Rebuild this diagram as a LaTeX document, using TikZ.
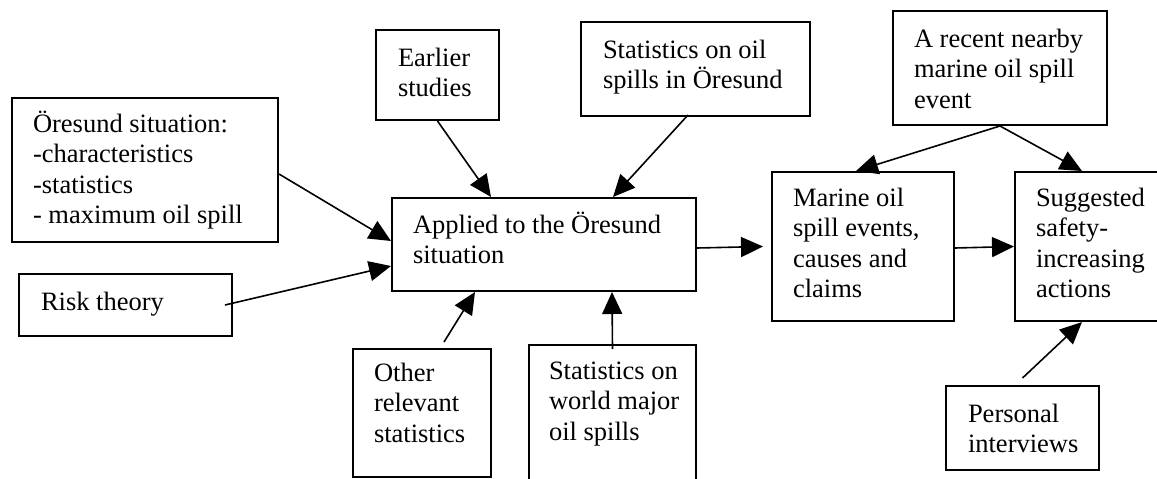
\documentclass[tikz,border=0pt]{standalone}
\usepackage{fontspec}
\setmainfont{Liberation Serif}
\usetikzlibrary{arrows.meta,calc}
\newcommand{\bxtext}[5]{\parbox[c][#2pt][t]{#1pt}{\raggedright\leftskip=#3pt\relax\rule{0pt}{#4pt}#5}}
\begin{document}
\begin{tikzpicture}[x=1pt,y=-1pt,
  box/.style={draw,line width=2pt,inner sep=0pt,anchor=north west,font=\fontsize{26.5}{30.5}\selectfont},
  arr/.style={line width=1.6pt,-{Triangle[length=22pt,width=20pt]}}]
\useasboundingbox (0,0) rectangle (1157,479);
\clip (0,0) rectangle (1157,479);
\node[box] (oresund) at (11,97) {\bxtext{266}{144}{21}{34}{Öresund situation:\\-characteristics\\-statistics\\- maximum oil spill}};
\node[box] (risk) at (18,273) {\bxtext{213}{62}{22}{36}{Risk theory}};
\node[box] (earlier) at (375,29) {\bxtext{123}{90}{22}{36}{Earlier\\studies}};
\node[box] (statsore) at (580,21) {\bxtext{229}{94}{22}{36}{Statistics on oil\\spills in Öresund}};
\node[box] (applied) at (391,197) {\bxtext{304}{93}{21}{35}{Applied to the Öresund\\situation}};
\node[box] (recent) at (892,10) {\bxtext{214}{114}{21}{36}{A recent nearby\\marine oil spill\\event}};
\node[box] (marine) at (771,171) {\bxtext{182}{149}{21}{34}{Marine oil\\spill events,\\causes and\\claims}};
\node[box] (suggested) at (1014,171) {\bxtext{150}{149}{21}{34}{Suggested\\safety-\\increasing\\actions}};
\node[box] (personal) at (945,385) {\bxtext{153}{84}{22}{36}{Personal\\interviews}};
\node[box] (other) at (352,348) {\bxtext{138}{128}{21}{32}{Other\\relevant\\statistics}};
\node[box] (world) at (528,344) {\bxtext{167}{150}{20}{34}{Statistics on\\world major\\oil spills}};
\draw[arr] ($(oresund.east)+(0,4)$) -- ($(applied.west)+(0,-3.5)$);
\draw[arr] ($(risk.east)+(-8,0)$) -- ($(applied.west)+(0,21.5)$);
\draw[arr] (earlier.south) -- ($(applied.north)+(-53,0)$);
\draw[arr] ($(statsore.south)+(-7.5,-2)$) -- ($(applied.north)+(69,0)$);
\draw[arr] ($(applied.east)+(0,3.5)$) -- ($(marine.west)+(-8,0)$);
\draw[arr] ($(marine.east)+(0,1.5)$) -- (suggested.west);
\draw[arr] (recent.south) -- ($(marine.north)+(-7,0)$);
\draw[arr] (recent.south) -- ($(suggested.north west)+(68,0)$);
\draw[arr] ($(other.north)+(22,-6)$) -- ($(applied.south)+(-69,0)$);
\draw[arr] ($(world.north)+(0,5)$) -- ($(applied.south)+(68,0)$);
\draw[arr] ($(personal.north)+(0,-7)$) -- ($(suggested.south west)+(68,0)$);
\end{tikzpicture}
\end{document}
